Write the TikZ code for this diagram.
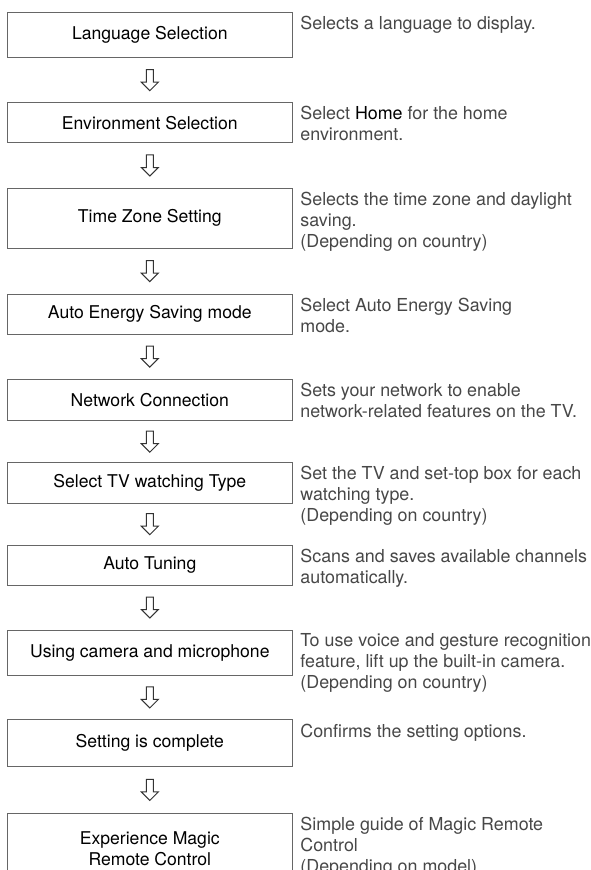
\documentclass[tikz,border=0pt]{standalone}
\usepackage{fontspec}
\setmainfont{TeX Gyre Heros}
\usetikzlibrary{calc,positioning}

\begin{document}
\begin{tikzpicture}[x=.75pt,y=-.75pt,font=\fontsize{13pt}{15.75pt}\selectfont]
 \tikzset{
  stepbox/.style={draw=black!60,line width=.75pt,minimum width=213.75pt,
   inner sep=0pt,align=center,text=black,font=\fontsize{13.2pt}{15.75pt}\selectfont},
  note/.style={below right=3pt and 5.5pt of #1,inner sep=0pt,align=left,text=black!72,
   font=\fontsize{13.4pt}{15.75pt}\selectfont},
  hollow/.style={draw=black!80,line width=.75pt,fill=white,line join=miter}
 }
 \useasboundingbox (0,0) rectangle (590,870);
 \clip (0,0) rectangle (590,870);
 % steps, left column
 \foreach \n/\c/\h/\t in {lang/35.2/45/Language Selection,
   env/122.7/40/Environment Selection,
   tz/218.3/60/Time Zone Setting,
   aes/314/40/Auto Energy Saving mode,
   net/400/41.4/Network Connection,
   tv/483/40.6/Select TV watching Type,
   tune/565/40/Auto Tuning,
   cam/652.5/45/Using camera and microphone,
   done/743.3/46.7/Setting is complete,
   magic/849/71.6/Experience Magic\\Remote Control}{
  \node[stepbox,minimum height=\h*.75pt] (\n) at (149.8,\c) {\t};
 }
 % hollow arrows between the steps
 \foreach \a/\b in {lang/env,env/tz,tz/aes,aes/net,net/tv,tv/tune,tune/cam,cam/done,done/magic}{
  \path (\a.south) -- (\b.north) coordinate[pos=.5] (m);
  \draw[hollow] ($(m)+(-3.5,-10.5)$) -- ++(7,0) -- ++(0,12.5) -- ++(5,0)
   -- ++(-8.5,8.5) -- ++(-8.5,-8.5) -- ++(5,0) -- cycle;
 }
 % notes, right column
 \node[note=lang.north east] (lang-note) {Selects a language to display.};
 \node[note=env.north east] (env-note) {Select {\color{black}Home} for the home\\environment.};
 \node[note=tz.north east] (tz-note) {Selects the time zone and daylight\\saving.\\(Depending on country)};
 \node[note=aes.north east] (aes-note) {Select Auto Energy Saving\\mode.};
 \node[note=net.north east] (net-note) {Sets your network to enable\\network-related features on the TV.};
 \node[note=tv.north east] (tv-note) {Set the TV and set-top box for each\\watching type.\\(Depending on country)};
 \node[note=tune.north east] (tune-note) {Scans and saves available channels\\automatically.};
 \node[note=cam.north east] (cam-note) {To use voice and gesture recognition\\feature, lift up the built-in camera.\\(Depending on country)};
 \node[note=done.north east] (done-note) {Confirms the setting options.};
 \node[note=magic.north east] (magic-note) {Simple guide of Magic Remote\\Control\\(Depending on model)};
\end{tikzpicture}
\end{document}
